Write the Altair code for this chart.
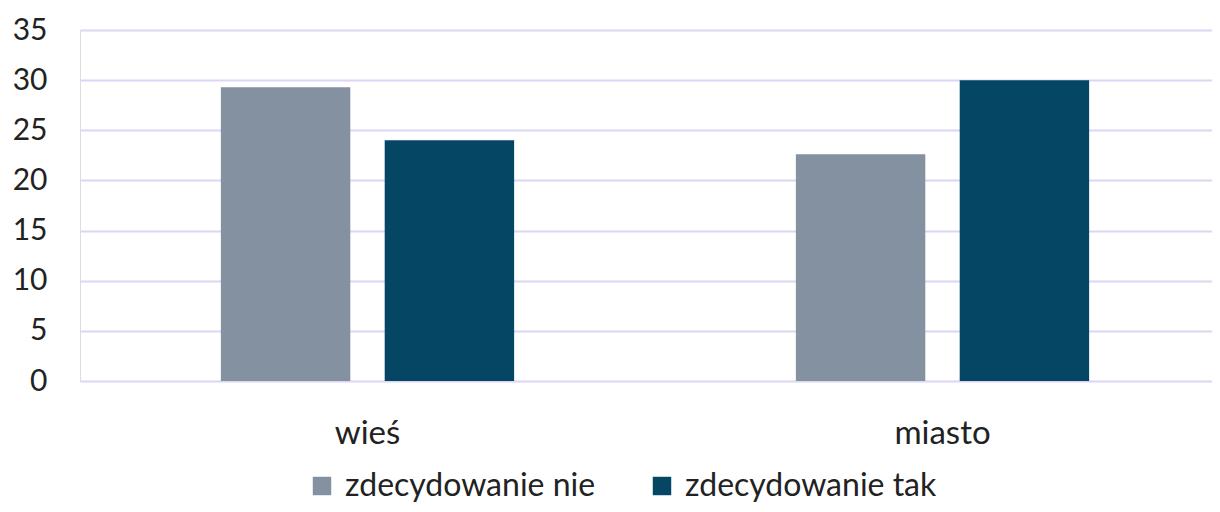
import altair as alt
import pandas as pd

categories = ["wieś", "miasto"]
series = ["zdecydowanie nie", "zdecydowanie tak"]
values_nie = [29.3, 22.6]
values_tak = [24.0, 30.0]
colors = ["#8391A1", "#044664"]

rows = []
for i, c in enumerate(categories):
    rows.append({"kategoria": c, "seria": series[0], "wartosc": values_nie[i]})
    rows.append({"kategoria": c, "seria": series[1], "wartosc": values_tak[i]})
df = pd.DataFrame(rows)

FONT = "Lato"

chart = alt.Chart(df).mark_bar().encode(
    x=alt.X("kategoria:N", sort=categories, title=None,
            scale=alt.Scale(range=[0, 1150], paddingInner=0.49, paddingOuter=0.245),
            axis=alt.Axis(labelAngle=0, labelFontSize=33, labelFont=FONT,
                          labelColor="#222222", labelPadding=36, ticks=False,
                          domain=False, grid=False)),
    xOffset=alt.XOffset("seria:N", sort=series,
                        scale=alt.Scale(paddingInner=0.21, paddingOuter=0)),
    y=alt.Y("wartosc:Q", title=None,
            scale=alt.Scale(domain=[0, 35], nice=False),
            axis=alt.Axis(values=[0, 5, 10, 15, 20, 25, 30, 35], labelFontSize=30,
                          labelFont=FONT, labelColor="#222222", labelPadding=33,
                          ticks=False, domain=False, gridColor="#DAD6F3",
                          gridWidth=2, gridOpacity=1)),
    color=alt.Color("seria:N", sort=series,
                    scale=alt.Scale(domain=series, range=colors),
                    legend=alt.Legend(title=None, orient="none", legendX=226,
                                      legendY=440, direction="horizontal",
                                      padding=0,
                                      symbolType="square", symbolSize=340,
                                      symbolStrokeWidth=0, labelFontSize=32,
                                      labelFont=FONT, labelColor="#222222",
                                      labelLimit=0,
                                      columnPadding=50, labelOffset=7)),
).properties(
    width=1132, height=351,
    autosize=alt.AutoSizeParams(type="none"),
    padding={"left": 72, "top": 22, "right": 0, "bottom": 123},
).configure_view(stroke=None).configure(background="white")

chart.save("out.html", embed_options={"renderer": "svg", "actions": False})
